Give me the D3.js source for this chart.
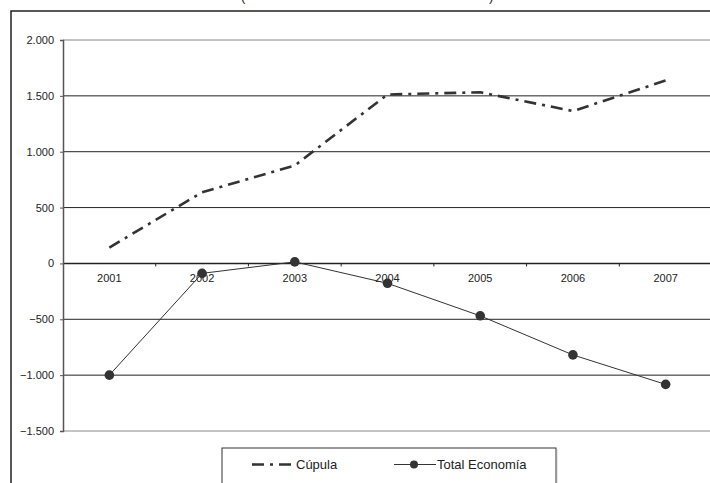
<!DOCTYPE html>
<html><head><meta charset="utf-8">
<script src="https://cdn.jsdelivr.net/npm/d3@7/dist/d3.min.js"></script>
<style>body{margin:0;background:#fff}svg{display:block;color:#222}text{font-family:"Liberation Sans",Arial,sans-serif;fill:#222}</style>
</head><body><svg id="c" width="710" height="483"></svg>
<script>
const years = ["2001","2002","2003","2004","2005","2006","2007"];
const cupula = [142, 637, 877, 1512, 1532, 1364, 1637];
const totalEconomia = [-1000, -89, 14, -178, -469, -819, -1083];
const yTicks = [2000, 1500, 1000, 500, 0, -500, -1000, -1500];
const seriesNames = ["Cúpula", "Total Economía"];

const svg = d3.select("#c");
const x = d3.scalePoint().domain(years).range([63, 712]).padding(0.5);
const xb = d3.scaleBand().domain(years).range([63, 712]);
const y = d3.scaleLinear().domain([-1500, 2000]).range([431, 40]);
const fmt = v => d3.format(",")(v).replace(/,/g, ".");

// outer frame
svg.append("rect").attr("x", 11).attr("y", 11).attr("width", 720).attr("height", 500)
  .attr("fill", "none").attr("stroke", "#222").attr("stroke-width", 1.5);
// title remnants (cut off at the top, as in the reference)
svg.append("text").attr("x", 241).attr("y", 1).attr("font-size", 13).text("(");
svg.append("text").attr("x", 489).attr("y", 1).attr("font-size", 13).text(")");

// gridlines
yTicks.forEach(v => {
  const edge = (v === 2000 || v === -1500);
  svg.append("line").attr("x1", 63).attr("x2", 712).attr("y1", y(v)).attr("y2", y(v))
    .attr("stroke", edge ? "#888" : "#222").attr("stroke-width", v === 0 ? 1.4 : 1);
});
// y axis
const ya = svg.append("g").attr("transform", "translate(63,0)")
  .call(d3.axisLeft(y).tickValues(yTicks).tickFormat(fmt).tickSize(3).tickPadding(6));
ya.select(".domain").attr("stroke", "#555").attr("stroke-width", 1.5);
ya.selectAll(".tick line").attr("stroke", "#555");
ya.selectAll("text").attr("font-size", 11).style("font-family", "Liberation Sans, Arial, sans-serif").style("fill", "#222");

// x axis at zero
const xa = svg.append("g").attr("transform", `translate(0,${y(0)})`)
  .call(d3.axisBottom(xb).tickSize(0).tickPadding(11));
xa.select(".domain").remove();
xa.selectAll("text").attr("font-size", 11).style("font-family", "Liberation Sans, Arial, sans-serif").style("fill", "#222");
years.slice(1).forEach(yr => {
  svg.append("line").attr("x1", xb(yr)).attr("x2", xb(yr)).attr("y1", y(0)).attr("y2", y(0) + 3)
    .attr("stroke", "#222");
});

// Cúpula
const line = d3.line().x((d, i) => x(years[i])).y(d => y(d));
svg.append("path").datum(cupula).attr("d", line).attr("fill", "none")
  .attr("stroke", "#333").attr("stroke-width", 2.6).attr("stroke-dasharray", "12,6,3,6");
// Total Economía
svg.append("path").datum(totalEconomia).attr("d", line).attr("fill", "none")
  .attr("stroke", "#333").attr("stroke-width", 1);
svg.selectAll("circle.m").data(totalEconomia).enter().append("circle").attr("class", "m")
  .attr("cx", (d, i) => x(years[i])).attr("cy", d => y(d)).attr("r", 4.8).attr("fill", "#333");

// legend
svg.append("rect").attr("x", 222).attr("y", 448).attr("width", 334).attr("height", 60)
  .attr("fill", "#fff").attr("stroke", "#333").attr("stroke-width", 1);
svg.append("line").attr("x1", 556.5).attr("x2", 556.5).attr("y1", 449).attr("y2", 483)
  .attr("stroke", "#999").attr("stroke-width", 1.5);
svg.append("line").attr("x1", 252).attr("x2", 294).attr("y1", 464.5).attr("y2", 464.5)
  .attr("stroke", "#333").attr("stroke-width", 2.6).attr("stroke-dasharray", "12,6,3,6");
svg.append("text").attr("x", 296).attr("y", 469).attr("font-size", 13).text(seriesNames[0]);
svg.append("line").attr("x1", 394).attr("x2", 436).attr("y1", 464.5).attr("y2", 464.5)
  .attr("stroke", "#333").attr("stroke-width", 1);
svg.append("circle").attr("cx", 414).attr("cy", 464.5).attr("r", 4).attr("fill", "#333");
svg.append("text").attr("x", 437).attr("y", 469).attr("font-size", 13).text(seriesNames[1]);
</script></body></html>
